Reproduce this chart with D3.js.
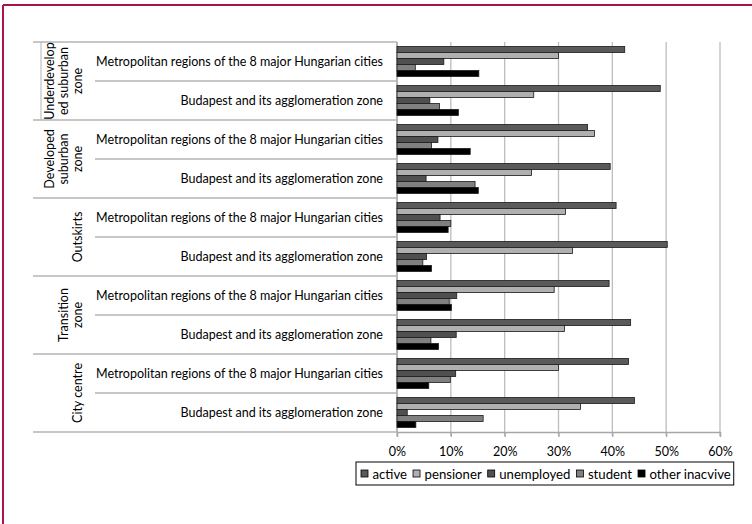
<!DOCTYPE html>
<html><head><meta charset="utf-8">
<script src="https://cdn.jsdelivr.net/npm/d3@7"></script>
<style>body{margin:0;background:#fff}svg{display:block}</style>
</head><body><svg id="c" width="752" height="524"></svg>
<script>
const zones = ["Underdeveloped suburban zone","Developed suburban zone","Outskirts","Transition zone","City centre"];
const zoneLines = [["Underdevelop","ed suburban","zone"],["Developed","suburban","zone"],["Outskirts"],["Transition","zone"],["City centre"]];
const regions = ["Metropolitan regions of the 8 major Hungarian cities","Budapest and its agglomeration zone"];
const seriesNames = ["active","pensioner","unemployed","student","other inacvive"];
const seriesColors = ["#5a5a5a","#b0b0b0","#505050","#808080","#000000"];
const active     = [42.3,48.9,35.4,39.6,40.7,50.2,39.4,43.4,43.0,44.1];
const pensioner  = [30.0,25.4,36.7,25.0,31.3,32.6,29.2,31.1,30.0,34.1];
const unemployed = [8.7,6.1,7.6,5.4,8.0,5.5,11.1,11.0,10.9,1.9];
const student    = [3.4,7.9,6.4,14.5,10.0,4.8,9.7,6.3,9.9,16.0];
const other      = [15.2,11.4,13.6,15.1,9.5,6.4,10.1,7.7,5.9,3.5];
const xTicks = [0,10,20,30,40,50,60];

const seriesValues = [active,pensioner,unemployed,student,other];
const cats = [];
zones.forEach((z,zi)=>regions.forEach(r=>cats.push({zone:z,zi:zi,region:r})));

const FONT = "Lato";
const FS = 13.3, FS_LEG = 14;
const svg = d3.select("#c");
const pLeft=397, pRight=720, pTop=42, pBottom=432;

// horizontal condensing factor so that the long label is ~287px wide (Calibri-like)
const probe = svg.append("text").attr("font-family",FONT).attr("font-size",FS).text(regions[0]);
const kx = 287/probe.node().getComputedTextLength();
probe.remove();
function condense(sel){
  sel.each(function(){
    const w = this.getComputedTextLength();
    d3.select(this).attr("textLength", w*kx).attr("lengthAdjust","spacingAndGlyphs");
  });
}

const x = d3.scaleLinear().domain([0,60]).range([pLeft,pRight]);
const y = d3.scaleBand().domain(d3.range(cats.length)).range([pTop,pBottom]).padding(0);
const ys = d3.scaleBand().domain(d3.range(seriesNames.length)).range([0,y.bandwidth()]).paddingInner(0).paddingOuter(0.75);

// border (top & left)
svg.append("line").attr("x1",3).attr("x2",752).attr("y1",5).attr("y2",5).attr("stroke","#a3163f").attr("stroke-width",2);
svg.append("line").attr("x1",3).attr("x2",3).attr("y1",5).attr("y2",524).attr("stroke","#b01450").attr("stroke-width",2);

// gridlines
svg.append("g").selectAll("line").data(xTicks).join("line")
  .attr("x1",d=>x(d)).attr("x2",d=>x(d)).attr("y1",pTop).attr("y2",pBottom+4)
  .attr("stroke","#bdbdbd").attr("stroke-width",1.3);

// x axis
const xAxis = d3.axisBottom(x).tickValues(xTicks).tickFormat(d=>d+"%").tickSize(5).tickPadding(10);
const gx = svg.append("g").attr("transform",`translate(0,${pBottom})`).call(xAxis);
gx.select(".domain").attr("stroke","#a6a6a6").attr("stroke-width",1.3);
gx.selectAll(".tick line").attr("stroke","#a6a6a6").attr("stroke-width",1.3);
gx.selectAll("text").attr("font-family",FONT).attr("font-size",FS).attr("fill","#000").call(condense);

// category axis lines
svg.append("line").attr("x1",pLeft).attr("x2",pLeft).attr("y1",pTop).attr("y2",pBottom).attr("stroke","#a6a6a6").attr("stroke-width",1.3);
const bounds = d3.range(cats.length+1);
svg.append("g").selectAll("line").data(bounds).join("line")
  .attr("x1",d=> d%2===0 ? 33 : 95).attr("x2",pLeft)
  .attr("y1",d=> d<cats.length ? y(d) : pBottom).attr("y2",d=> d<cats.length ? y(d) : pBottom)
  .attr("stroke","#b5b5b5").attr("stroke-width",1.3);
svg.append("line").attr("x1",41).attr("x2",41).attr("y1",y(0)).attr("y2",y(2)).attr("stroke","#b5b5b5").attr("stroke-width",1);

// region labels
svg.append("g").selectAll("text").data(cats).join("text")
  .attr("x",383).attr("y",(d,i)=>y(i)+y.bandwidth()/2).attr("dy","0.35em")
  .attr("text-anchor","end").attr("font-family",FONT).attr("font-size",FS).attr("fill","#000")
  .text(d=>d.region).call(condense);

// zone labels (rotated)
zones.forEach((z,zi)=>{
  const cy = (y(zi*2) + y(zi*2+1) + y.bandwidth())/2;
  const lines = zoneLines[zi];
  const n = lines.length;
  const t = svg.append("text").attr("transform",`translate(0,${cy}) rotate(-90)`)
    .attr("text-anchor","middle").attr("font-family",FONT).attr("font-size",FS).attr("fill","#000");
  lines.forEach((ln,li)=>{
    t.append("tspan").attr("x",0).attr("y",77-(n-1-li)*14).attr("dy","0.35em").text(ln).call(condense);
  });
});

// bars
const gb = svg.append("g");
seriesNames.forEach((s,si)=>{
  gb.append("g").selectAll("rect").data(seriesValues[si]).join("rect")
    .attr("x",x(0)).attr("y",(d,i)=>y(i)+ys(si))
    .attr("width",d=>x(d)-x(0)).attr("height",ys.bandwidth())
    .attr("fill",seriesColors[si]).attr("stroke","#1a1a1a").attr("stroke-width",0.8);
});

// legend
const lg = svg.append("g");
const box = lg.append("rect").attr("x",356).attr("y",462).attr("height",23).attr("fill","#fff").attr("stroke","#000").attr("stroke-width",1);
let cx = 361;
seriesNames.forEach((s,si)=>{
  lg.append("rect").attr("x",cx).attr("y",470).attr("width",7).attr("height",7)
    .attr("fill",seriesColors[si]).attr("stroke","#000").attr("stroke-width",0.8);
  const t = lg.append("text").attr("x",cx+11.5).attr("y",474).attr("dy","0.35em")
    .attr("font-family",FONT).attr("font-size",FS_LEG).attr("fill","#000").text(s).call(condense);
  cx += 11.5 + (+t.attr("textLength")) + 6;
});
box.attr("width",cx-356-3);
</script>
</body></html>
